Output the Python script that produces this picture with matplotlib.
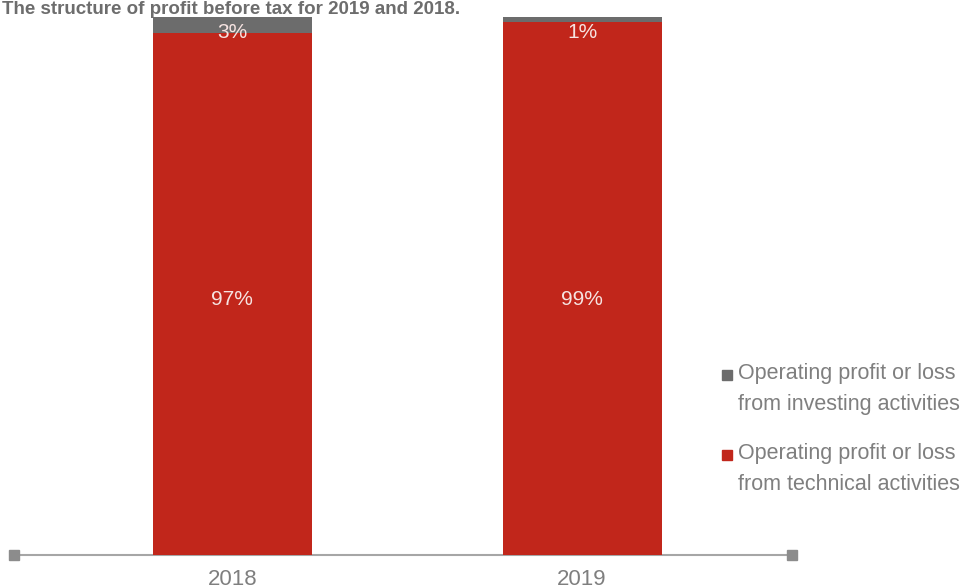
import matplotlib
matplotlib.use("Agg")
import matplotlib.pyplot as plt
from matplotlib.lines import Line2D

# ---- data ----
years = ["2018", "2019"]
technical = [97, 99]   # Operating profit or loss from technical activities (%)
investing = [3, 1]     # Operating profit or loss from investing activities (%)
series_labels = ["Operating profit or loss\nfrom investing activities",
                 "Operating profit or loss\nfrom technical activities"]
title = "The structure of profit before tax for 2019 and 2018."

RED = "#C1261B"
GREY = "#6C6C6C"
TXT = "#7F7F7F"
LABEL = "#F6E3E1"
MID_LABEL_Y = 47.4  # vertical position of the big inner labels

plt.rcParams['font.family'] = ['Liberation Sans', 'DejaVu Sans']

W, H = 965, 588
fig = plt.figure(figsize=(W / 100, H / 100), dpi=100)
ax = fig.add_axes([14 / W, (H - 555) / H, (792 - 14) / W, (555 - 17) / H])

x = list(range(len(years)))
bw = 0.454
ax.bar(x, technical, width=bw, color=RED, zorder=2)
ax.bar(x, investing, width=bw, bottom=technical, color=GREY, zorder=2)

ax.set_xlim(-0.624, 1.6)
ax.set_ylim(0, 100)

for xi, t, iv in zip(x, technical, investing):
    ax.text(xi, MID_LABEL_Y, f"{t}%", ha="center", va="center",
            color=LABEL, fontsize=15)
    ax.annotate(f"{iv}%", xy=(xi, t + iv), xytext=(0, -4.5), textcoords="offset points",
                ha="center", va="top", color=LABEL, fontsize=15)

# axis line with square end caps
for s in ["top", "right", "left"]:
    ax.spines[s].set_visible(False)
ax.spines["bottom"].set_color("#A6A6A6")
ax.spines["bottom"].set_linewidth(1.5)
ax.spines["bottom"].set_zorder(1)
ax.plot([0, 1], [0, 0], transform=ax.transAxes, ls="none", marker="s",
        markersize=7, color="#8C8C8C", clip_on=False, zorder=3)

ax.set_yticks([])
ax.set_xticks(x)
ax.set_xticklabels(years, fontsize=16, color=TXT)
ax.tick_params(axis="x", length=0, pad=10)

# title
fig.text(0.002, 1 - 14 / H, title, ha="left", va="baseline", fontsize=13.5,
         fontweight="bold", color="#6D6D6D")

# legend (manual, square aligned with first line)
colors = [GREY, RED]
ys = [375, 455]
for lab, c, yy in zip(series_labels, colors, ys):
    fig.add_artist(Line2D([726.5 / W], [1 - yy / H], marker="s", markersize=6.5,
                          color=c, ls="none"))
    fig.text(738 / W, 1 - (yy - 11.5) / H, lab, ha="left", va="top", fontsize=15.5,
             color=TXT, linespacing=1.62)

fig.savefig("out.png", dpi=100)
